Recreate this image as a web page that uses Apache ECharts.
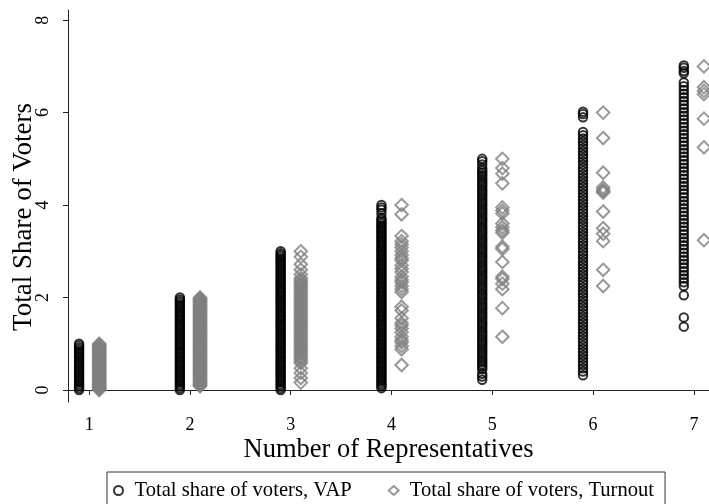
<!DOCTYPE html>
<html>
<head>
<meta charset="utf-8">
<script src="https://cdn.jsdelivr.net/npm/echarts@6/dist/echarts.min.js"></script>
<style>html,body{margin:0;padding:0;background:#fff;}#chart{width:709px;height:504px;}</style>
</head>
<body>
<div id="chart"></div>
<script>
const categories = [1, 2, 3, 4, 5, 6, 7];
const xTicks = [1, 2, 3, 4, 5, 6, 7];
const yTicks = [0, 2, 4, 6, 8];
const seriesNames = ['Total share of voters, VAP', 'Total share of voters, Turnout'];

const vap1 = [0,0.04,0.08,0.12,0.16,0.2,0.24,0.28,0.32,0.36,0.4,0.44,0.48,0.52,0.56,0.6,0.64,0.68,0.72,0.76,0.8,0.84,0.88,0.92,0.96,1];
const vap2 = [0,0.04,0.08,0.12,0.16,0.2,0.24,0.28,0.32,0.36,0.4,0.44,0.48,0.52,0.56,0.6,0.64,0.68,0.72,0.76,0.8,0.84,0.88,0.92,0.96,1,1.04,1.08,1.12,1.16,1.2,1.24,1.28,1.32,1.36,1.4,1.44,1.48,1.52,1.56,1.6,1.64,1.68,1.72,1.76,1.8,1.84,1.88,1.92,1.96,2];
const vap3 = [0,0.04,0.08,0.12,0.16,0.2,0.24,0.28,0.32,0.36,0.4,0.44,0.48,0.52,0.56,0.6,0.64,0.68,0.72,0.76,0.8,0.84,0.88,0.92,0.96,1,1.04,1.08,1.12,1.16,1.2,1.24,1.28,1.32,1.36,1.4,1.44,1.48,1.52,1.56,1.6,1.64,1.68,1.72,1.76,1.8,1.84,1.88,1.92,1.96,2,2.04,2.08,2.12,2.16,2.2,2.24,2.28,2.32,2.36,2.4,2.44,2.48,2.52,2.56,2.6,2.64,2.68,2.72,2.76,2.8,2.84,2.88,2.92,2.96,3];
const vap4 = [0.04,0.08,0.12,0.16,0.2,0.24,0.28,0.32,0.36,0.4,0.44,0.48,0.52,0.56,0.6,0.64,0.68,0.72,0.76,0.8,0.84,0.88,0.92,0.96,1,1.04,1.08,1.12,1.16,1.2,1.24,1.28,1.32,1.36,1.4,1.44,1.48,1.52,1.56,1.6,1.64,1.68,1.72,1.76,1.8,1.84,1.88,1.92,1.96,2,2.04,2.08,2.12,2.16,2.2,2.24,2.28,2.32,2.36,2.4,2.44,2.48,2.52,2.56,2.6,2.64,2.68,2.72,2.76,2.8,2.84,2.88,2.92,2.96,3,3.04,3.08,3.12,3.16,3.2,3.24,3.28,3.32,3.36,3.4,3.44,3.48,3.52,3.56,3.6,3.64,3.68,3.72,3.82,3.9,3.95,4];
const vap5 = [0.22,0.29,0.35,0.45,0.5,0.55,0.6,0.65,0.7,0.75,0.8,0.85,0.9,0.95,1,1.05,1.1,1.15,1.2,1.25,1.3,1.35,1.4,1.45,1.5,1.55,1.6,1.65,1.7,1.75,1.8,1.85,1.9,1.95,2,2.05,2.1,2.15,2.2,2.25,2.3,2.35,2.4,2.45,2.5,2.55,2.6,2.65,2.7,2.75,2.8,2.85,2.9,2.95,3,3.05,3.1,3.15,3.2,3.25,3.3,3.35,3.4,3.45,3.5,3.55,3.6,3.65,3.7,3.75,3.8,3.85,3.9,3.95,4,4.05,4.1,4.15,4.2,4.25,4.3,4.35,4.4,4.45,4.5,4.55,4.6,4.65,4.7,4.75,4.8,4.88,4.95,5];
const vap6 = [0.32,0.4,0.47,0.54,0.61,0.68,0.75,0.82,0.89,0.96,1.03,1.1,1.17,1.24,1.31,1.38,1.45,1.52,1.59,1.66,1.73,1.8,1.87,1.94,2.01,2.08,2.15,2.22,2.29,2.36,2.43,2.5,2.57,2.64,2.71,2.78,2.85,2.92,2.99,3.06,3.13,3.2,3.27,3.34,3.41,3.48,3.55,3.62,3.69,3.76,3.83,3.9,3.97,4.04,4.11,4.18,4.25,4.32,4.39,4.46,4.53,4.6,4.67,4.74,4.81,4.88,4.95,5.02,5.09,5.16,5.23,5.3,5.37,5.44,5.51,5.58,5.9,5.97,6.02];
const vap7 = [1.37,1.57,2.05,2.25,2.33,2.41,2.49,2.57,2.65,2.73,2.81,2.89,2.97,3.05,3.13,3.21,3.29,3.37,3.45,3.53,3.61,3.69,3.77,3.85,3.93,4.01,4.09,4.17,4.25,4.33,4.41,4.49,4.57,4.65,4.73,4.81,4.89,4.97,5.05,5.13,5.21,5.29,5.37,5.45,5.53,5.61,5.69,5.77,5.85,5.93,6.01,6.09,6.17,6.25,6.33,6.41,6.49,6.57,6.65,6.85,6.9,6.97,7.02];

const turnout1 = [0,0.02,0.04,0.06,0.08,0.1,0.12,0.14,0.16,0.18,0.2,0.22,0.24,0.26,0.28,0.3,0.32,0.34,0.36,0.38,0.4,0.42,0.44,0.46,0.48,0.5,0.52,0.54,0.56,0.58,0.6,0.62,0.64,0.66,0.68,0.7,0.72,0.74,0.76,0.78,0.8,0.82,0.84,0.86,0.88,0.9,0.92,0.94,0.96,0.98,1];
const turnout2 = [0.08,0.1,0.12,0.14,0.16,0.18,0.2,0.22,0.24,0.26,0.28,0.3,0.32,0.34,0.36,0.38,0.4,0.42,0.44,0.46,0.48,0.5,0.52,0.54,0.56,0.58,0.6,0.62,0.64,0.66,0.68,0.7,0.72,0.74,0.76,0.78,0.8,0.82,0.84,0.86,0.88,0.9,0.92,0.94,0.96,0.98,1,1.02,1.04,1.06,1.08,1.1,1.12,1.14,1.16,1.18,1.2,1.22,1.24,1.26,1.28,1.3,1.32,1.34,1.36,1.38,1.4,1.42,1.44,1.46,1.48,1.5,1.52,1.54,1.56,1.58,1.6,1.62,1.64,1.66,1.68,1.7,1.72,1.74,1.76,1.78,1.8,1.82,1.84,1.86,1.88,1.9,1.92,1.94,1.96,1.98,2];
const turnout3 = [0.16,0.26,0.37,0.47,0.58,0.62,0.66,0.7,0.74,0.78,0.82,0.86,0.9,0.94,0.98,1.02,1.06,1.1,1.14,1.18,1.22,1.26,1.3,1.34,1.38,1.42,1.46,1.5,1.54,1.58,1.62,1.66,1.7,1.74,1.78,1.82,1.86,1.9,1.94,1.98,2.02,2.06,2.1,2.14,2.18,2.22,2.26,2.3,2.34,2.38,2.42,2.5,2.6,2.72,2.88,3];
const turnout4 = [0.54,0.88,0.95,1.03,1.08,1.15,1.25,1.33,1.4,1.45,1.55,1.72,1.8,2.12,2.18,2.25,2.33,2.38,2.45,2.55,2.62,2.7,2.8,2.85,2.92,3,3.08,3.15,3.22,3.33,3.8,4];
const turnout5 = [1.15,1.77,2.18,2.3,2.4,2.45,2.77,3.05,3.1,3.4,3.45,3.52,3.6,3.82,3.88,3.95,4.47,4.68,4.8,5];
const turnout6 = [2.25,2.6,3.22,3.38,3.5,3.86,4.27,4.3,4.33,4.38,4.7,5.45,6];
const turnout7 = [3.24,5.25,5.87,6.4,6.47,6.55,7];

const vapByCat = [vap1, vap2, vap3, vap4, vap5, vap6, vap7];
const turnoutByCat = [turnout1, turnout2, turnout3, turnout4, turnout5, turnout6, turnout7];

const OFFSET = 0.1;
function build(groups, shift) {
  const out = [];
  groups.forEach((vals, i) => vals.forEach(v => out.push([categories[i] + shift, v])));
  return out;
}

const FONT = "'Liberation Serif','Times New Roman',serif";
const chart = echarts.init(document.getElementById('chart'), null, {renderer: 'canvas'});
chart.setOption({
  animation: false,
  backgroundColor: '#fff',
  textStyle: {fontFamily: FONT},
  grid: {left: 68, right: 0, top: 10, bottom: 102, containLabel: false, outerBoundsMode: 'none'},
  xAxis: {
    type: 'value', min: 0.79, max: 7.15,
    name: 'Number of Representatives', nameLocation: 'middle', nameGap: 35, nameMoveOverlap: false,
    nameTextStyle: {fontFamily: FONT, fontSize: 26.5, color: '#000'},
    axisLine: {show: true, lineStyle: {color: '#222', width: 1}},
    axisTick: {show: true, length: 5, lineStyle: {color: '#222'}, customValues: xTicks},
    axisLabel: {fontFamily: FONT, fontSize: 18, color: '#000', margin: 14, customValues: xTicks},
    splitLine: {show: false}
  },
  yAxis: {
    type: 'value', min: -0.26, max: 8.22,
    name: 'Total Share of Voters', nameLocation: 'middle', nameGap: 30.5, nameRotate: 90, nameMoveOverlap: false,
    nameTextStyle: {fontFamily: FONT, fontSize: 27, color: '#000', padding: [0, 22, 0, 0]},
    axisLine: {show: true, lineStyle: {color: '#222', width: 1}},
    axisTick: {show: true, length: 5, lineStyle: {color: '#222'}, customValues: yTicks},
    axisLabel: {fontFamily: FONT, fontSize: 18, color: '#000', margin: 16, rotate: 90, customValues: yTicks},
    splitLine: {show: false}
  },
  legend: {
    left: 107, top: 472, orient: 'horizontal',
    itemWidth: 10, itemHeight: 9, itemGap: 36,
    padding: [8, 11, 30, 6],
    borderColor: '#333', borderWidth: 1,
    textStyle: {fontFamily: FONT, fontSize: 20.6, color: '#000', padding: [0, 0, 0, 6]},
    data: seriesNames
  },
  series: [
    {
      name: seriesNames[0], type: 'scatter', symbol: 'circle', symbolSize: 8.5,
      itemStyle: {color: 'rgba(0,0,0,0)', borderColor: '#000', borderWidth: 2},
      emphasis: {disabled: true},
      data: build(vapByCat, -OFFSET)
    },
    {
      name: seriesNames[1], type: 'scatter', symbol: 'diamond', symbolSize: 12.5,
      itemStyle: {color: 'rgba(0,0,0,0)', borderColor: '#808080', borderWidth: 2},
      emphasis: {disabled: true},
      data: build(turnoutByCat, OFFSET)
    }
  ]
});
</script>
</body>
</html>
